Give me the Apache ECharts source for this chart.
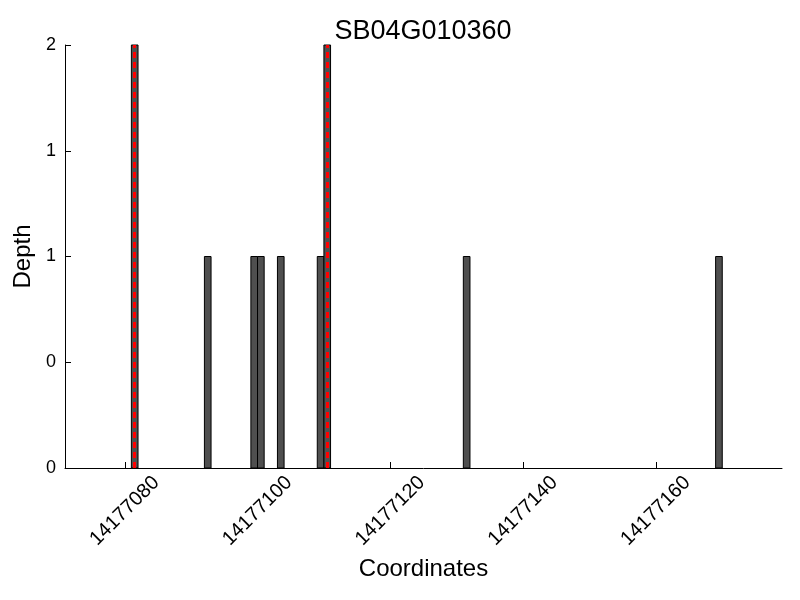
<!DOCTYPE html>
<html>
<head>
<meta charset="utf-8">
<script src="https://cdn.jsdelivr.net/npm/echarts@6/dist/echarts.min.js"></script>
<style>
  html, body { margin: 0; padding: 0; background: #fff; }
  #chart { width: 800px; height: 600px; }
</style>
</head>
<body>
<div id="chart"></div>
<script>
// read positions (each bar covers [pos, pos + 1])
const positions = [14177081, 14177092, 14177099, 14177100, 14177103, 14177109, 14177110, 14177131, 14177169]
const depths = [2, 1, 1, 1, 1, 1, 2, 1, 1]
// positions marked with the red dashed line
const markedPositions = [14177081, 14177110]
const xTicks = [14177080, 14177100, 14177120, 14177140, 14177160]
const yTicks = [0, 0.5, 1, 1.5, 2]

const font = 'Liberation Sans, Arial, sans-serif'
const chart = echarts.init(document.getElementById('chart'))

chart.setOption({
  animation: false,
  title: {
    text: 'SB04G010360',
    left: 418,
    top: 13,
    textAlign: 'center',
    textStyle: { fontFamily: font, fontSize: 27, fontWeight: 'normal', color: '#000' }
  },
  grid: { left: 65, right: 18, top: 45, bottom: 132 },
  xAxis: {
    type: 'value',
    min: 14177071,
    max: 14177179,
    name: 'Coordinates',
    nameLocation: 'middle',
    nameGap: 89,
    nameTextStyle: { fontFamily: font, fontSize: 24, color: '#000' },
    axisLine: { lineStyle: { color: '#000', width: 1 } },
    axisTick: { inside: true, length: 6, customValues: xTicks, lineStyle: { color: '#000' } },
    axisLabel: {
      customValues: xTicks,
      rotate: 45,
      align: 'center',
      verticalAlign: 'middle',
      margin: 43,
      fontFamily: font,
      fontSize: 20,
      color: '#000',
      formatter: v => String(v)
    },
    splitLine: { show: false }
  },
  yAxis: {
    type: 'value',
    min: 0,
    max: 2,
    name: 'Depth',
    nameLocation: 'middle',
    nameRotate: 90,
    nameGap: 25,
    nameTextStyle: { fontFamily: font, fontSize: 24, color: '#000' },
    axisLine: { show: true, lineStyle: { color: '#000', width: 1 } },
    axisTick: { show: true, inside: true, length: 6, customValues: yTicks, lineStyle: { color: '#000' } },
    axisLabel: {
      customValues: yTicks,
      margin: 9,
      fontFamily: font,
      fontSize: 18,
      color: '#000',
      formatter: v => String(Math.floor(v))
    },
    splitLine: { show: false }
  },
  series: [
    {
      type: 'custom',
      data: positions.map((p, i) => [p, depths[i]]),
      renderItem: (params, api) => {
        const start = api.coord([api.value(0), api.value(1)])
        const end = api.coord([api.value(0) + 1, 0])
        return {
          type: 'rect',
          shape: { x: start[0], y: start[1], width: end[0] - start[0], height: end[1] - start[1] },
          style: { fill: '#4f4f4f', stroke: '#000', lineWidth: 1 }
        }
      },
      markLine: {
        silent: true,
        symbol: 'none',
        label: { show: false },
        lineStyle: { color: '#ff0000', width: 3, type: [6, 4] },
        data: markedPositions.map(p => ({ xAxis: p + 0.5 }))
      }
    }
  ]
})
</script>
</body>
</html>
